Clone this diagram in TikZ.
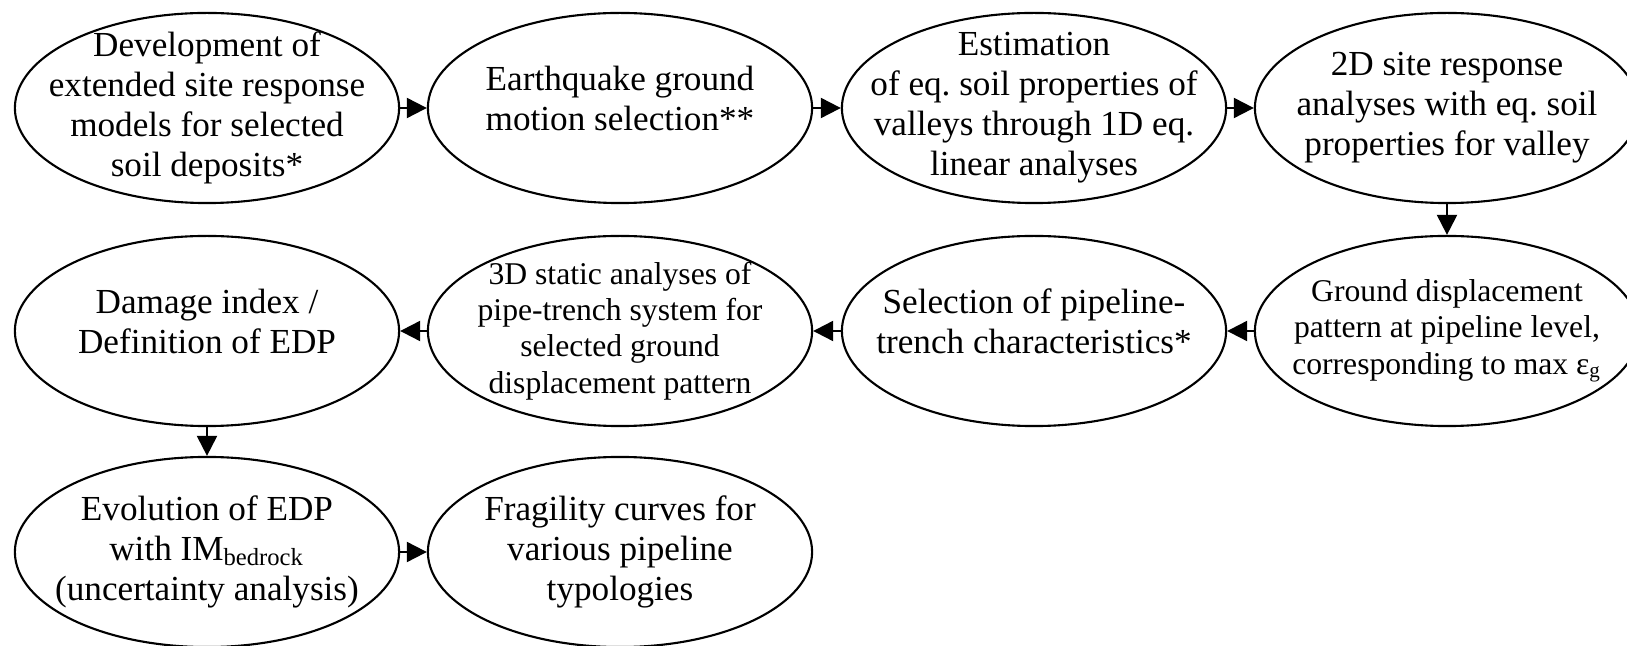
\documentclass[tikz,border=0pt]{standalone}
\usepackage{fontspec}
\setmainfont{Liberation Serif}
\usetikzlibrary{arrows.meta,positioning,shapes.geometric}
\frenchspacing

\begin{document}
\begin{tikzpicture}[x=0.01cm,y=-0.01cm,
  task/.style={draw,ellipse,line width=0.6pt,minimum width=3.84cm,minimum height=1.9cm,
    inner xsep=-1.6cm,inner ysep=-1cm,align=center,font=\rmfamily\fontsize{10}{11.4}\selectfont},
  smalltask/.style={task,font=\rmfamily\fontsize{9}{10.3}\selectfont},
  flow/.style={-{Triangle[length=0.2cm,width=0.2cm]},line width=0.6pt}]
  \useasboundingbox (0,0) rectangle (1627,646);
  % First row
  \node[task] (devel) at (207,108) {Development of\\extended site response\\models for selected\\soil deposits*};
  \node[task,text depth=0.2cm] (motion) at (620,108) {Earthquake ground\\motion selection**};
  \node[task] (eqprop) at (1034,108) {Estimation\\of eq. soil properties of\\valleys through 1D eq.\\linear analyses};
  \node[task] (site2d) at (1447,108) {2D site response\\analyses with eq. soil\\properties for valley};
  % Second row
  \node[smalltask] (pattern) at (1447,331) {Ground displacement\\pattern at pipeline level,\\corresponding to max ε\textsubscript{g}};
  \node[task,text depth=0.2cm] (trench) at (1034,331) {Selection of pipeline-\\trench characteristics*};
  \node[smalltask] (static3d) at (620,331) {3D static analyses of\\pipe-trench system for\\selected ground\\displacement pattern};
  \node[task,text depth=0.2cm] (damage) at (207,331) {Damage index /\\Definition of EDP};
  % Third row
  \node[task] (evol) at (207,552) {Evolution of EDP\\with IM\textsubscript{bedrock}\\(uncertainty analysis)};
  \node[task] (fragil) at (620,552) {Fragility curves for\\various pipeline\\typologies};
  % Arrows
  \draw[flow] (devel) -- (motion);
  \draw[flow] (motion) -- (eqprop);
  \draw[flow] (eqprop) -- (site2d);
  \draw[flow] (site2d) -- (pattern);
  \draw[flow] (pattern) -- (trench);
  \draw[flow] (trench) -- (static3d);
  \draw[flow] (static3d) -- (damage);
  \draw[flow] (damage) -- (evol);
  \draw[flow] (evol) -- (fragil);
\end{tikzpicture}
\end{document}
